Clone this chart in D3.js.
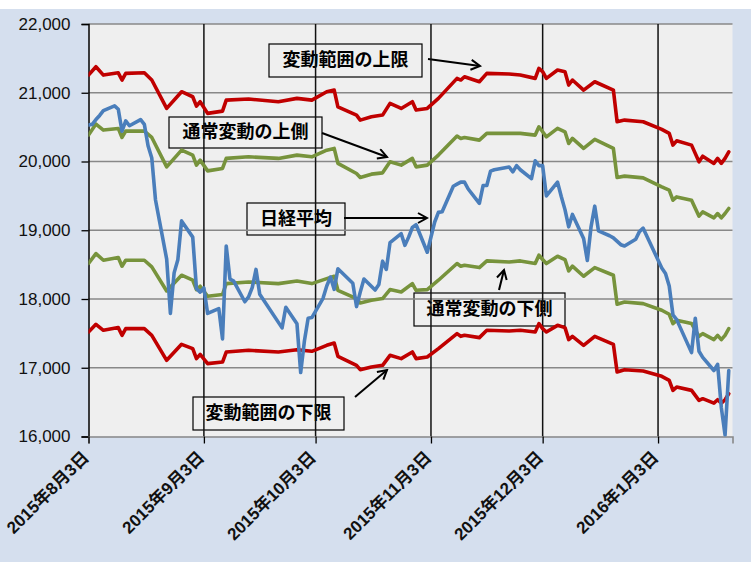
<!DOCTYPE html>
<html><head><meta charset="utf-8">
<script src="https://cdn.jsdelivr.net/npm/d3@7/dist/d3.min.js"></script>
<style>body{margin:0;background:#fff}svg{display:block}</style>
</head><body><svg id="c" width="751" height="563"></svg>
<script>
// ---------- DATA ----------
const nikkeiDates = [
"2015-08-03","2015-08-04","2015-08-05","2015-08-06","2015-08-07","2015-08-10","2015-08-11","2015-08-12","2015-08-13","2015-08-14","2015-08-17","2015-08-18","2015-08-19","2015-08-20","2015-08-21","2015-08-24","2015-08-25","2015-08-26","2015-08-27","2015-08-28","2015-08-31",
"2015-09-01","2015-09-02","2015-09-03","2015-09-04","2015-09-07","2015-09-08","2015-09-09","2015-09-10","2015-09-11","2015-09-14","2015-09-15","2015-09-16","2015-09-17","2015-09-18","2015-09-24","2015-09-25","2015-09-28","2015-09-29","2015-09-30",
"2015-10-01","2015-10-02","2015-10-05","2015-10-06","2015-10-07","2015-10-08","2015-10-09","2015-10-13","2015-10-14","2015-10-15","2015-10-16","2015-10-19","2015-10-20","2015-10-21","2015-10-22","2015-10-23","2015-10-26","2015-10-27","2015-10-28","2015-10-29","2015-10-30",
"2015-11-02","2015-11-04","2015-11-05","2015-11-06","2015-11-09","2015-11-10","2015-11-11","2015-11-12","2015-11-13","2015-11-16","2015-11-17","2015-11-18","2015-11-19","2015-11-20","2015-11-24","2015-11-25","2015-11-26","2015-11-27","2015-11-30",
"2015-12-01","2015-12-02","2015-12-03","2015-12-04","2015-12-07","2015-12-08","2015-12-09","2015-12-10","2015-12-11","2015-12-14","2015-12-15","2015-12-16","2015-12-17","2015-12-18","2015-12-21","2015-12-22","2015-12-24","2015-12-25","2015-12-28","2015-12-29","2015-12-30",
"2016-01-04","2016-01-05","2016-01-06","2016-01-07","2016-01-08","2016-01-12","2016-01-13","2016-01-14","2016-01-15","2016-01-18","2016-01-19","2016-01-20","2016-01-21","2016-01-22"];
const nikkeiValues = [
20530,20540,20610,20670,20740,20810,20760,20440,20590,20520,20610,20540,20230,20050,19440,18580,17790,18380,18570,19136,18900,
18150,18100,18160,17790,17860,17420,18770,18290,18260,17960,18030,18170,18430,18070,17580,17880,17640,16930,17390,
17720,17730,18010,18190,18320,18140,18440,18230,17890,18100,18290,18130,18210,18550,18430,18820,18950,18780,18900,19040,19080,
18680,19120,19260,19270,19640,19670,19700,19700,19600,19390,19650,19650,19860,19880,19920,19850,19940,19880,19750,
20010,19940,19940,19500,19700,19490,19300,19050,19230,18880,18560,19050,19350,18990,18920,18890,18790,18770,18870,18980,19030,
18450,18370,18190,17770,17700,17220,17720,17240,17150,16960,17050,16420,16020,16960];

const bandDates = ["2015-08-03","2015-08-05","2015-08-07","2015-08-11","2015-08-12","2015-08-13","2015-08-18","2015-08-20","2015-08-24","2015-08-28",
"2015-08-31","2015-09-01","2015-09-02","2015-09-04","2015-09-08","2015-09-09","2015-09-15","2015-09-23","2015-09-28","2015-10-02",
"2015-10-06","2015-10-08","2015-10-09","2015-10-14","2015-10-15","2015-10-18","2015-10-21","2015-10-23","2015-10-26","2015-10-29",
"2015-10-30","2015-11-02","2015-11-05","2015-11-10","2015-11-11","2015-11-12","2015-11-16","2015-11-18","2015-11-24","2015-11-27",
"2015-12-01","2015-12-02","2015-12-03","2015-12-04","2015-12-07","2015-12-09","2015-12-10","2015-12-11","2015-12-14","2015-12-17",
"2015-12-22","2015-12-23","2015-12-25","2015-12-30","2016-01-04","2016-01-06","2016-01-07","2016-01-08","2016-01-12","2016-01-14",
"2016-01-15","2016-01-18","2016-01-19","2016-01-20","2016-01-21","2016-01-22"];
const upperLimit = [21258,21378,21257,21290,21185,21282,21290,21185,20772,21015,
20942,20806,20869,20700,20733,20893,20908,20869,20918,20893,
21015,21039,20796,20675,20602,20650,20675,20845,20772,20869,
20748,20772,20918,21209,21185,21233,21160,21282,21272,21257,
21209,21355,21306,21209,21330,21306,21112,21185,21039,21160,
21039,20578,20602,20578,20467,20409,20238,20301,20238,19995,
20078,19972,20045,19972,20045,20141];
const upperNormal = [20384,20544,20457,20481,20350,20442,20442,20350,19922,20165,
20093,19947,20020,19864,19899,20045,20068,20045,20093,20068,
20165,20190,19972,19826,19768,19816,19835,19995,19947,20045,
19922,19947,20093,20370,20336,20350,20311,20409,20409,20409,
20384,20505,20432,20359,20481,20432,20263,20336,20190,20321,
20190,19768,19787,19762,19631,19583,19437,19485,19437,19205,
19267,19180,19243,19180,19243,19316];
const lowerNormal = [18516,18661,18564,18603,18477,18564,18564,18467,18117,18346,
18273,18137,18185,18040,18065,18224,18248,18224,18262,18224,
18297,18331,18127,18006,17942,17981,18006,18137,18102,18224,
18127,18137,18273,18516,18477,18491,18457,18554,18539,18554,
18516,18637,18574,18516,18622,18574,18408,18477,18331,18457,
18346,17923,17957,17933,17836,17778,17642,17690,17642,17457,
17496,17409,17472,17409,17472,17569];
const lowerLimit = [17520,17632,17545,17584,17472,17569,17569,17472,17108,17341,
17278,17133,17195,17060,17083,17229,17254,17229,17263,17239,
17326,17360,17166,17035,16972,17011,17035,17181,17133,17229,
17133,17156,17278,17496,17457,17472,17438,17545,17535,17545,
17520,17642,17569,17520,17617,17584,17409,17457,17326,17457,
17341,16938,16972,16952,16875,16817,16671,16719,16671,16526,
16550,16486,16535,16486,16535,16623];

const yTicks = [16000,17000,18000,19000,20000,21000,22000];
const xTickDates = ["2015-08-03","2015-09-03","2015-10-03","2015-11-03","2015-12-03","2016-01-03"];
const xDomain = ["2015-08-03","2016-01-23"];

const annotationTexts = ["変動範囲の上限","通常変動の上側","日経平均","通常変動の下側","変動範囲の下限"];

// ---------- LAYOUT ----------
const W = 751, H = 563;
const plot = {left: 88.5, right: 732.5, top: 24, bottom: 436.5};
const annLayout = [
  {box:[269,44,153,33], arrow:[428,59,480,66]},
  {box:[169,117,153,31], arrow:[322,133,387,157]},
  {box:[247,203,98,32], arrow:[344,218,427,218]},
  {box:[414,293,151,33], arrow:[499,290,504,270]},
  {box:[193,397,151,33], arrow:[355,397,387,370]}
];

const parse = d3.timeParse("%Y-%m-%d");
const svg = d3.select("#c");

svg.append("rect").attr("x",0).attr("y",0).attr("width",W).attr("height",H).attr("fill","#ffffff");
svg.append("rect").attr("x",0).attr("y",9).attr("width",W).attr("height",553).attr("fill","#D5DFEE");
svg.append("rect").attr("x",plot.left).attr("y",plot.top).attr("width",plot.right-plot.left).attr("height",plot.bottom-plot.top).attr("fill","#EFEFEF");

const x = d3.scaleTime().domain(xDomain.map(parse)).range([plot.left, plot.right]);
const y = d3.scaleLinear().domain([16000,22000]).range([plot.bottom, plot.top]);

const defs = svg.append("defs");
defs.append("marker").attr("id","arr").attr("viewBox","0 0 12 12").attr("refX",10).attr("refY",6)
  .attr("markerWidth",12).attr("markerHeight",12).attr("markerUnits","userSpaceOnUse").attr("orient","auto")
  .append("path").attr("d","M1,1 L10,6 L1,11").attr("fill","none").attr("stroke","#000").attr("stroke-width",2);
defs.append("clipPath").attr("id","clip").append("rect")
  .attr("x",plot.left).attr("y",plot.top).attr("width",plot.right-plot.left).attr("height",plot.bottom-plot.top);

// annotations (boxes + text + arrows)
const ann = svg.append("g");
annLayout.forEach((a,i)=>{
  const [bx,by,bw,bh] = a.box;
  ann.append("rect").attr("x",bx).attr("y",by).attr("width",bw).attr("height",bh)
    .attr("fill","none").attr("stroke","#000").attr("stroke-width",1.2);
  ann.append("text").attr("x",bx+bw/2).attr("y",by+bh/2+1).attr("text-anchor","middle").attr("dominant-baseline","middle")
    .attr("font-family","'Noto Sans CJK JP'").attr("font-weight",700).attr("font-size",18).attr("fill","#000")
    .text(annotationTexts[i]);
  const [x1,y1,x2,y2] = a.arrow;
  ann.append("line").attr("x1",x1).attr("y1",y1).attr("x2",x2).attr("y2",y2)
    .attr("stroke","#000").attr("stroke-width",2).attr("marker-end","url(#arr)");
});

// gridlines
const g = svg.append("g");
yTicks.filter(v=>v>16000).forEach(v=>{
  g.append("line").attr("x1",plot.left).attr("x2",plot.right).attr("y1",y(v)).attr("y2",y(v))
    .attr("stroke","#888888").attr("stroke-width",1.6);
});
xTickDates.slice(1).forEach(d=>{
  g.append("line").attr("x1",x(parse(d))).attr("x2",x(parse(d))).attr("y1",plot.top).attr("y2",plot.bottom)
    .attr("stroke","#111").attr("stroke-width",1.5);
});

// axes
const yAxis = d3.axisLeft(y).tickValues(yTicks).tickSize(7).tickPadding(11).tickFormat(d3.format(","));
const ya = svg.append("g").attr("transform",`translate(${plot.left},0)`).call(yAxis);
ya.select(".domain").attr("stroke","#000").attr("stroke-width",1.5);
ya.selectAll(".tick line").attr("stroke","#000").attr("stroke-width",1.3);
ya.selectAll(".tick text").attr("font-family","'Liberation Sans', Arial, sans-serif").attr("font-size",17).attr("fill","#111");

const fmt = d3.timeFormat("%Y年%-m月%-d日");
const xAxis = d3.axisBottom(x).tickValues(xTickDates.map(parse)).tickSize(7).tickFormat(fmt);
const xa = svg.append("g").attr("transform",`translate(0,${plot.bottom})`).call(xAxis);
xa.select(".domain").attr("stroke","#888").attr("stroke-width",1.6);
xa.selectAll(".tick line").attr("stroke","#000").attr("stroke-width",1.3);
xa.selectAll(".tick text").attr("font-family","'Liberation Sans', 'Noto Sans CJK JP', sans-serif").attr("font-weight",700).attr("font-size",17).attr("fill","#111")
  .attr("text-anchor","end").attr("dy",0).attr("y",0)
  .attr("transform","translate(1,22) rotate(-45)");

// series
const line = d3.line().x(d=>x(d[0])).y(d=>y(d[1]));
const bd = bandDates.map(parse);
const series = [
  {vals: upperLimit, dates: bd, color:"#C00000"},
  {vals: lowerLimit, dates: bd, color:"#C00000"},
  {vals: upperNormal, dates: bd, color:"#77933C"},
  {vals: lowerNormal, dates: bd, color:"#77933C"},
  {vals: nikkeiValues, dates: nikkeiDates.map(parse), color:"#4A7EBB"}
];
const sg = svg.append("g").attr("clip-path","url(#clip)");
series.forEach(s=>{
  sg.append("path").datum(s.dates.map((d,i)=>[d,s.vals[i]]))
    .attr("d",line).attr("fill","none").attr("stroke",s.color).attr("stroke-width",3.6)
    .attr("stroke-linejoin","round").attr("stroke-linecap","round");
});
</script></body></html>
